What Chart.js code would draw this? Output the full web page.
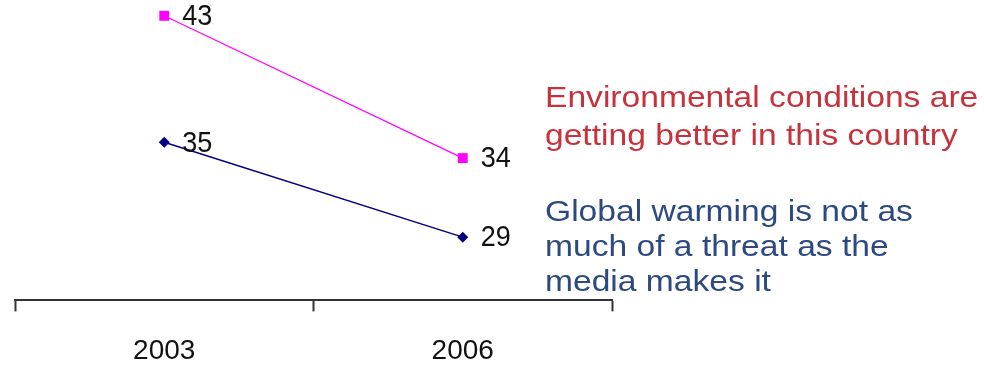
<!DOCTYPE html>
<html>
<head>
<meta charset="utf-8">
<script src="https://cdn.jsdelivr.net/npm/chart.js@4"></script>
<style>
    html, body { margin: 0; padding: 0; background: #fff; }
    .wrap { position: relative; width: 984px; height: 368px; overflow: hidden; }
    .note {
        position: absolute;
        left: 545px;
        font-family: "Liberation Sans", Arial, sans-serif;
        font-size: 30px;
        white-space: nowrap;
        transform: scaleX(1.12);
        transform-origin: left top;
    }
    .note.red { top: 78px; line-height: 38px; color: #c8323c; }
    .note.blue { top: 193px; line-height: 35px; color: #2d4a80; }
</style>
</head>
<body>
<div class="wrap">
    <canvas id="chart" width="984" height="368"></canvas>
    <div class="note red">Environmental conditions are<br>getting better in this country</div>
    <div class="note blue">Global warming is not as<br>much of a threat as the<br>media makes it</div>
</div>
<script>
const years = ['2003', '2006'];
const betterValues = [43, 34];
const notThreatValues = [35, 29];

// numbers next to each point
const pointLabels = {
    id: 'pointLabels',
    afterDatasetsDraw(chart) {
        const ctx = chart.ctx;
        ctx.save();
        ctx.fillStyle = '#111';
        ctx.font = '30px "Liberation Sans", Arial, sans-serif';
        ctx.textBaseline = 'middle';
        ctx.textAlign = 'left';
        chart.data.datasets.forEach((ds, i) => {
            chart.getDatasetMeta(i).data.forEach((pt, j) => {
                ctx.save();
                ctx.translate(pt.x + 18, pt.y + 1);
                ctx.scale(0.9, 1);
                ctx.fillText(ds.data[j], 0, 0);
                ctx.restore();
            });
        });
        ctx.restore();
    }
};

new Chart(document.getElementById('chart'), {
    type: 'line',
    data: {
        labels: years,
        datasets: [
            {
                label: 'Environmental conditions are getting better in this country',
                data: betterValues,
                borderColor: '#ff00ff',
                backgroundColor: '#ff00ff',
                borderWidth: 1.2,
                pointStyle: 'rect',
                pointRadius: 7,
                pointBorderWidth: 0,
                clip: false
            },
            {
                label: 'Global warming is not as much of a threat as the media makes it',
                data: notThreatValues,
                borderColor: '#000080',
                backgroundColor: '#000080',
                borderWidth: 1.5,
                pointStyle: 'rectRot',
                pointRadius: 5.5,
                pointBorderWidth: 0,
                clip: false
            }
        ]
    },
    options: {
        responsive: false,
        animation: false,
        layout: { autoPadding: false, padding: { left: 15, right: 372, top: 0, bottom: -23 } },
        plugins: {
            legend: { display: false },
            tooltip: { enabled: false }
        },
        scales: {
            x: {
                offset: true,
                grid: {
                    offset: true,
                    drawOnChartArea: false,
                    drawTicks: true,
                    tickLength: 11,
                    tickWidth: 2,
                    tickColor: '#333'
                },
                border: { color: '#333', width: 2 },
                ticks: {
                    color: '#111',
                    padding: 23,
                    font: { family: '"Liberation Sans", Arial, sans-serif', size: 28 }
                }
            },
            y: {
                display: false,
                min: 25,
                max: 44
            }
        }
    },
    plugins: [pointLabels]
});
</script>
</body>
</html>
